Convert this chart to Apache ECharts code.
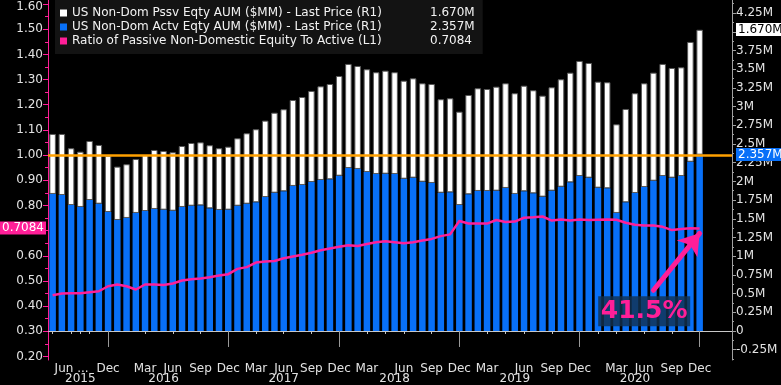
<!DOCTYPE html>
<html><head><meta charset="utf-8">
<script src="https://cdn.jsdelivr.net/npm/echarts@6/dist/echarts.min.js"></script>
<style>html,body{margin:0;padding:0;background:#000;}#c{width:781px;height:385px;}</style>
</head><body><div id="c"></div>
<script>
// ---- data (values in millions of $MM) ----
const passiveName = 'US Non-Dom Pssv Eqty AUM ($MM) - Last Price (R1)';
const activeName = 'US Non-Dom Actv Eqty AUM ($MM) - Last Price (R1)';
const ratioName = 'Ratio of Passive Non-Domestic Equity To Active (L1)';

const passiveAUM = [0.802,0.816,0.759,0.739,0.789,0.785,0.753,0.713,0.718,0.721,
  0.749,0.789,0.784,0.781,0.815,0.838,0.842,0.843,0.825,0.842,
  0.901,0.941,0.976,1.021,1.069,1.096,1.149,1.176,1.217,1.252,
  1.274,1.333,1.391,1.377,1.373,1.360,1.377,1.360,1.310,1.328,
  1.315,1.323,1.249,1.257,1.248,1.327,1.373,1.363,1.390,1.399,
  1.346,1.411,1.377,1.350,1.382,1.436,1.465,1.538,1.533,1.417,
  1.417,1.185,1.247,1.333,1.386,1.444,1.498,1.466,1.453,1.601,1.670];
const activeAUM = [1.832,1.818,1.684,1.658,1.751,1.702,1.591,1.484,1.511,1.578,
  1.604,1.631,1.622,1.608,1.658,1.675,1.680,1.640,1.618,1.622,
  1.675,1.702,1.721,1.791,1.849,1.868,1.939,1.952,1.992,2.019,
  2.028,2.076,2.179,2.166,2.126,2.099,2.103,2.099,2.036,2.050,
  1.996,1.979,1.849,1.854,1.684,1.828,1.872,1.872,1.876,1.912,
  1.832,1.868,1.841,1.796,1.876,1.929,1.988,2.072,2.050,1.916,
  1.908,1.578,1.721,1.845,1.925,2.009,2.072,2.050,2.072,2.263,2.357];
const ratio = [0.443,0.450,0.451,0.451,0.455,0.459,0.479,0.486,0.479,0.466,
  0.486,0.486,0.484,0.490,0.502,0.507,0.510,0.515,0.522,0.527,
  0.548,0.555,0.573,0.577,0.579,0.590,0.597,0.604,0.612,0.622,
  0.629,0.636,0.642,0.639,0.647,0.654,0.658,0.654,0.650,0.654,
  0.661,0.667,0.678,0.685,0.738,0.728,0.728,0.728,0.742,0.734,
  0.736,0.751,0.753,0.756,0.740,0.744,0.740,0.744,0.742,0.743,
  0.744,0.743,0.731,0.723,0.720,0.720,0.715,0.702,0.706,0.709,0.7084];

const monthTicks = [[0,'Jun ...'],[6,'Dec'],[10,'Mar'],[13,'Jun'],[16,'Sep'],[19,'Dec'],
  [22,'Mar'],[25,'Jun'],[28,'Sep'],[31,'Dec'],[34,'Mar'],[38,'Jun'],[41,'Sep'],[44,'Dec'],
  [47,'Mar'],[51,'Jun'],[54,'Sep'],[57,'Dec'],[61,'Mar'],[64,'Jun'],[67,'Sep'],[70,'Dec']];
const extraTicks = [2,3,4,36,49,59];
const yearTicks = [[3,'2015'],[12,'2016'],[25,'2017'],[37,'2018'],[50,'2019'],[63,'2020']];
const yearDividers = [6,19,31,44,57,70];
const emptyTrailingSlots = 3;

const leftTicks = [0.2,0.3,0.4,0.5,0.6,0.7,0.8,0.9,1.0,1.1,1.2,1.3,1.4,1.5,1.6];
const leftMinorTicks = [0.25,0.35,0.45,0.55,0.65,0.75,0.85,0.95,1.05,1.15,1.25,1.35,1.45,1.55];
const rightTicks = [-0.25,0,0.25,0.5,0.75,1,1.25,1.5,1.75,2,2.25,2.5,2.75,3,3.25,3.5,3.75,4,4.25];
const rightMinorTicks = [-0.375,-0.125,0.125,0.375,0.625,0.875,1.125,1.375,1.625,1.875,2.125,2.375,2.625,2.875,3.125,3.375,3.625,3.875,4.125,4.375];
const leftRange = [0.186, 1.616];
const rightRange = [-0.388, 4.425];
const referenceLevel = 1.0;
const annotation = {text: '41.5%', box: [64, 0.38], arrowFrom: [65.4, 0.463], arrowTo: [70.4, 0.689]};

// ---- build ----
const FONT = 'DejaVu Sans';
const PINK = '#ff1f98';
const BLUE = '#0870f8';
const ORANGE = '#ffa000';
const TXT = '#e2e2e2';
const n = passiveAUM.length;
const categories = [];
for (let i = 0; i < n + emptyTrailingSlots; i++) categories.push('c' + i);
const monthMap = Object.fromEntries(monthTicks);
const yearMap = Object.fromEntries(yearTicks);
const tickSet = new Set(monthTicks.map(t => t[0]).concat(extraTicks));
const lastP = passiveAUM[n-1], lastA = activeAUM[n-1], lastR = ratio[n-1];
const lastVals = {};
lastVals[passiveName] = lastP.toFixed(3) + 'M';
lastVals[activeName] = lastA.toFixed(3) + 'M';
lastVals[ratioName] = lastR.toFixed(4);
const hidden = {width: 0, color: 'rgba(0,0,0,0)', type: 'solid'};

const chart = echarts.init(document.getElementById('c'), null, {renderer: 'canvas'});
chart.setOption({
  backgroundColor: '#000',
  animation: false,
  textStyle: {fontFamily: FONT},
  grid: {left: 48, right: 49, top: 0, bottom: 25, containLabel: false},
  legend: {
    orient: 'vertical', left: 55, top: 0, padding: [6, 8, 6, 5],
    itemWidth: 7, itemHeight: 7, itemGap: 0, icon: 'rect', selectedMode: false,
    backgroundColor: '#131313',
    itemStyle: {borderWidth: 0},
    data: [passiveName, activeName, ratioName],
    formatter: name => '{n|' + name + '}{v|' + lastVals[name] + '}',
    textStyle: {color: '#f2f2f2', fontFamily: FONT, fontSize: 12, lineHeight: 14,
      rich: {n: {width: 358, fontFamily: FONT, fontSize: 12, color: '#f2f2f2'},
             v: {fontFamily: FONT, fontSize: 12, color: '#f2f2f2'}}}
  },
  xAxis: [{
    type: 'category', data: categories, position: 'bottom',
    axisLine: {show: true, lineStyle: {color: '#c8c8c8', width: 1}},
    axisTick: {show: true, alignWithLabel: true, length: 3, lineStyle: {color: '#c8c8c8'},
      interval: (i) => tickSet.has(i)},
    axisLabel: {show: true, interval: (i) => monthMap[i] !== undefined, margin: 3,
      color: TXT, fontFamily: FONT, fontSize: 12,
      formatter: (v, i) => i === 0 ? '{f|' + monthMap[i] + '}' : (monthMap[i] || ''),
      rich: {f: {padding: [0, 0, 0, 38], color: TXT, fontFamily: FONT, fontSize: 12}}},
    splitLine: {show: false}
  }, {
    type: 'category', data: categories, position: 'bottom', offset: 10,
    axisLine: {show: false},
    axisTick: {show: true, alignWithLabel: true, length: 16, lineStyle: {color: '#9a9a9a'},
      interval: (i) => yearDividers.includes(i)},
    axisLabel: {show: true, interval: (i) => yearMap[i] !== undefined, margin: 3,
      color: TXT, fontFamily: FONT, fontSize: 12, formatter: (v, i) => yearMap[i] || ''},
    splitLine: {show: false}
  }],
  yAxis: [{
    type: 'value', position: 'left', min: leftRange[0], max: leftRange[1],
    axisLine: {show: true, lineStyle: {color: PINK, width: 1}},
    axisTick: {show: true, length: 5, customValues: leftTicks, lineStyle: {color: PINK}},
    axisLabel: {show: true, customValues: leftTicks, margin: 5, color: TXT, fontFamily: FONT, fontSize: 12,
      formatter: v => Math.abs(v - 1.6) < 1e-9 ? '{t|' + v.toFixed(2) + '}' : v.toFixed(2),
      rich: {t: {padding: [6, 0, 0, 0], color: TXT, fontFamily: FONT, fontSize: 12}}},
    splitLine: {show: false}
  }, {
    type: 'value', position: 'right', min: rightRange[0], max: rightRange[1],
    axisLine: {show: true, lineStyle: {color: '#a0a0a0', width: 1}},
    axisTick: {show: true, length: 4, customValues: rightTicks, lineStyle: {color: '#a0a0a0'}},
    axisLabel: {show: true, customValues: rightTicks, margin: 4, color: TXT, fontFamily: FONT, fontSize: 12,
      formatter: v => v === 0 ? '0' : (+v.toFixed(2)) + 'M'},
    splitLine: {show: false}
  }, {
    type: 'value', position: 'left', min: leftRange[0], max: leftRange[1],
    axisLine: {show: false}, axisLabel: {show: false}, splitLine: {show: false},
    axisTick: {show: true, length: 3, customValues: leftMinorTicks, lineStyle: {color: PINK}}
  }, {
    type: 'value', position: 'right', min: rightRange[0], max: rightRange[1],
    axisLine: {show: false}, axisLabel: {show: false}, splitLine: {show: false},
    axisTick: {show: true, length: 2, customValues: rightMinorTicks, lineStyle: {color: '#a0a0a0'}}
  }],
  series: [{
    name: activeName, type: 'bar', stack: 'aum', xAxisIndex: 0, yAxisIndex: 1,
    data: activeAUM, barWidth: 6.5, itemStyle: {color: BLUE},
    markLine: {silent: true, symbol: ['none', 'none'], lineStyle: hidden,
      data: [{yAxis: lastA, lineStyle: hidden,
        label: {show: true, position: 'end', distance: 4, formatter: lastVals[activeName],
          backgroundColor: BLUE, color: '#fff', fontFamily: FONT, fontSize: 12, padding: [1, 2, 0, 2]}}]}
  }, {
    name: passiveName, type: 'bar', stack: 'aum', xAxisIndex: 0, yAxisIndex: 1,
    data: passiveAUM, barWidth: 6.5, itemStyle: {color: '#ffffff', borderColor: '#5a5a5a', borderWidth: 1},
    markLine: {silent: true, symbol: ['none', 'none'], lineStyle: hidden,
      data: [{yAxis: lastA + lastP, lineStyle: hidden,
        label: {show: true, position: 'end', distance: 4, formatter: lastVals[passiveName],
          backgroundColor: '#ffffff', color: '#000', fontFamily: FONT, fontSize: 12, padding: [1, 2, 0, 2]}}]}
  }, {
    name: ratioName, type: 'line', xAxisIndex: 0, yAxisIndex: 0, data: ratio,
    showSymbol: false, symbol: 'none', z: 5,
    itemStyle: {color: PINK}, lineStyle: {color: PINK, width: 2.5},
    markLine: {silent: true, symbol: ['none', 'none'], z: 4, lineStyle: {type: 'solid'},
      data: [
        {yAxis: referenceLevel, lineStyle: {color: ORANGE, width: 2.5, type: 'solid'}, label: {show: false}},
        {yAxis: lastR, lineStyle: hidden,
          label: {show: true, position: 'start', distance: 2, formatter: lastVals[ratioName],
            backgroundColor: PINK, color: '#fff', fontFamily: FONT, fontSize: 12, padding: [1, 2, 0, 2]}},
        [{coord: annotation.arrowFrom, symbol: 'none',
          lineStyle: {color: PINK, width: 5, type: 'solid', cap: 'round'}, label: {show: false}},
         {coord: annotation.arrowTo, symbol: 'arrow', symbolSize: 20,
          lineStyle: {color: PINK, width: 5, type: 'solid', cap: 'round'}}]
      ]},
    markPoint: {silent: true, z: 6,
      data: [{coord: annotation.box, symbol: 'rect', symbolSize: [92, 30],
        itemStyle: {color: 'rgba(18,49,79,0.82)'},
        label: {show: true, position: 'inside', formatter: annotation.text, color: PINK,
          fontFamily: FONT, fontWeight: 'bold', fontSize: 25}}]}
  }]
});
</script></body></html>
